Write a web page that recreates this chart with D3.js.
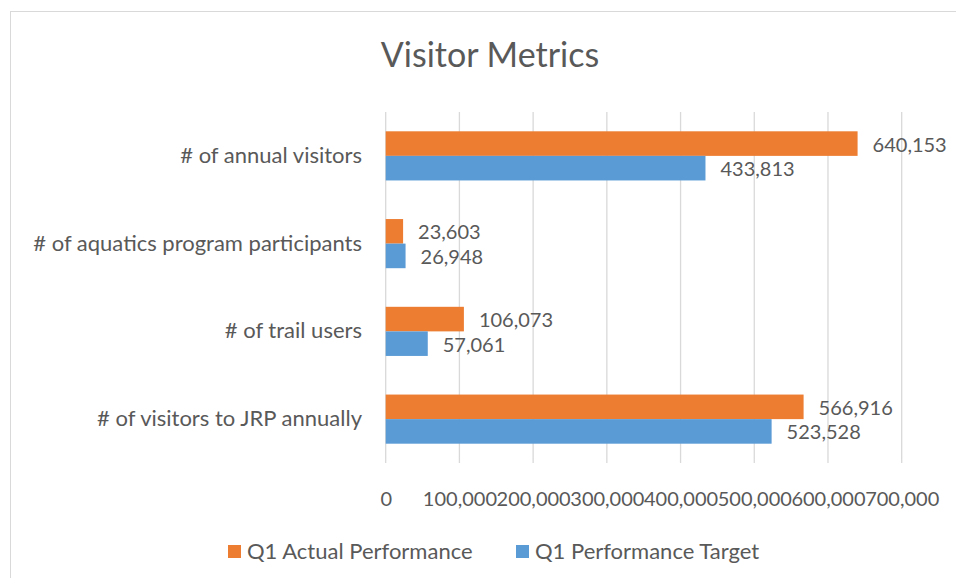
<!DOCTYPE html>
<html>
<head>
  <title>Visitor Metrics</title>
  <script src="https://d3js.org/d3.v7.min.js"></script>
  <style>
    body { margin: 0; background: #fff; }
    text { font-family: Lato, "Open Sans", sans-serif; fill: #595959; }
  </style>
</head>
<body>
  <svg width="956" height="578"></svg>
  <script>
    // data
    var categories = ["# of annual visitors", "# of aquatics program participants",
                      "# of trail users", "# of visitors to JRP annually"];
    var seriesNames = ["Q1 Actual Performance", "Q1 Performance Target"];
    var actual = [640153, 23603, 106073, 566916];
    var target = [433813, 26948, 57061, 523528];
    var xTicks = [0, 100000, 200000, 300000, 400000, 500000, 600000, 700000];
    var colors = ["#ED7D31", "#5B9BD5"];

    var svg = d3.select("svg");
    var plot = {left: 385.7, right: 901.7, top: 112, bottom: 463};

    // chart frame
    svg.append("rect")
        .attr("x", 10.5).attr("y", 11.5)
        .attr("width", 1000).attr("height", 1000)
        .attr("fill", "none")
        .attr("stroke", "#d9d9d9");

    svg.append("text")
        .attr("x", 490).attr("y", 67)
        .attr("text-anchor", "middle")
        .style("font-size", "34px")
        .text("Visitor Metrics");

    var x = d3.scaleLinear()
        .domain([0, 700000])
        .range([plot.left, plot.right]);

    var y = d3.scaleBand()
        .domain(categories)
        .range([plot.top, plot.bottom])
        .paddingInner(0.44)
        .paddingOuter(0.22);

    var sub = d3.scaleBand()
        .domain(seriesNames)
        .range([0, y.bandwidth()]);

    // gridlines
    svg.append("g")
        .selectAll("line")
        .data(xTicks)
        .enter().append("line")
        .attr("x1", function(d) { return x(d); })
        .attr("x2", function(d) { return x(d); })
        .attr("y1", plot.top)
        .attr("y2", plot.bottom)
        .attr("stroke", "#d9d9d9")
        .attr("stroke-width", 1.3);

    // x axis labels
    var xAxis = d3.axisBottom(x)
        .tickValues(xTicks)
        .tickSize(0)
        .tickPadding(0)
        .tickFormat(d3.format(","));

    var gx = svg.append("g")
        .attr("transform", "translate(0," + 506 + ")")
        .call(xAxis);
    gx.select(".domain").remove();
    gx.selectAll("text")
        .attr("dy", 0)
        .style("font-size", "20px")
        .style("font-family", "Lato, sans-serif")
        .attr("fill", "#595959");

    // category labels
    var yAxis = d3.axisLeft(y).tickSize(0).tickPadding(0);
    var gy = svg.append("g")
        .attr("transform", "translate(362,0)")
        .call(yAxis);
    gy.select(".domain").remove();
    gy.selectAll("text")
        .style("font-size", "22px")
        .style("font-family", "Lato, sans-serif")
        .attr("fill", "#595959");

    var rows = categories.map(function(c, i) {
        return [{cat: c, s: seriesNames[0], v: actual[i], c: colors[0]},
                {cat: c, s: seriesNames[1], v: target[i], c: colors[1]}];
    });
    var bars = d3.merge(rows);

    svg.append("g")
        .selectAll("rect")
        .data(bars)
        .enter().append("rect")
        .attr("x", x(0))
        .attr("y", function(d) { return y(d.cat) + sub(d.s); })
        .attr("width", function(d) { return x(d.v) - x(0); })
        .attr("height", sub.bandwidth())
        .attr("fill", function(d) { return d.c; });

    svg.append("g")
        .selectAll("text")
        .data(bars)
        .enter().append("text")
        .attr("x", function(d) { return x(d.v) + 15; })
        .attr("y", function(d) { return y(d.cat) + sub(d.s) + sub.bandwidth() / 2 + 1; })
        .attr("dy", "0.35em")
        .style("font-size", "20px")
        .text(function(d) { return d3.format(",")(d.v); });

    // legend
    var legendX = [228, 516];
    var legend = svg.append("g")
        .selectAll("g")
        .data(seriesNames)
        .enter().append("g")
        .attr("transform", function(d, i) { return "translate(" + legendX[i] + ",545)"; });
    legend.append("rect")
        .attr("width", 13).attr("height", 13)
        .attr("fill", function(d, i) { return colors[i]; });
    legend.append("text")
        .attr("x", 19).attr("y", 6.5)
        .attr("dy", "0.35em")
        .style("font-size", "22px")
        .text(function(d) { return d; });
  </script>
</body>
</html>
